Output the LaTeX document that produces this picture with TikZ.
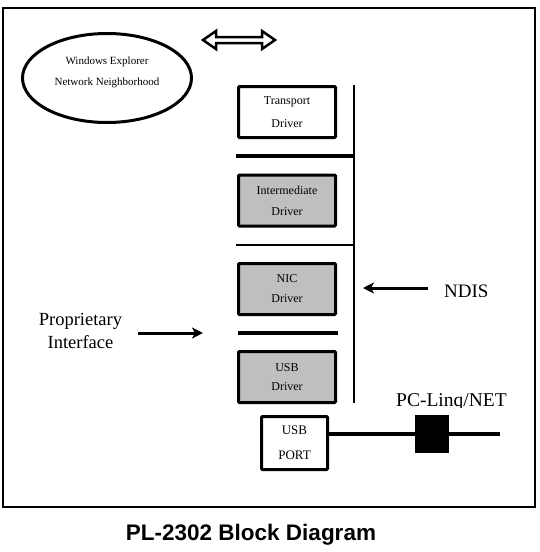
\documentclass[tikz,border=0pt]{standalone}
\usepackage{fontspec}
\setmainfont{Liberation Serif}
\newfontfamily\titlefont{Liberation Sans}
\usetikzlibrary{shapes.geometric,arrows.meta}
\begin{document}
\begin{tikzpicture}[x=1pt,y=-1pt,
  drvbox/.style={draw,line width=3pt,rounded corners=1pt,minimum width=97pt,minimum height=51pt,inner sep=0pt,align=center,font=\fontsize{12}{21}\selectfont},
  graybox/.style={drvbox,fill=gray!50},
  septhick/.style={line width=4pt},
  septhin/.style={line width=2pt},
  bigtext/.style={font=\fontsize{19}{23}\selectfont,inner sep=0pt,align=center},
  annarrow/.style={line width=3pt,-{Stealth[length=11pt,width=11pt,inset=3pt]}}
]
\useasboundingbox (0,0) rectangle (540,552);
% outer frame
\draw[line width=1.5pt] (3,8) rectangle (535,507);

% ellipse
\node[ellipse,draw,line width=3pt,minimum width=169pt,minimum height=89pt,inner sep=0pt] (el) at (107,78) {};
\node[font=\fontsize{11}{21}\selectfont,align=center,inner sep=0pt] (eltext) at (107,72.5) {Windows Explorer\\Network Neighborhood};

% double arrow
\draw[line width=2.5pt,line join=miter] (203,40) -- (216,31) -- (216,37) -- (262,37) -- (262,31) -- (275,40) -- (262,49) -- (262,43) -- (216,43) -- (216,49) -- cycle;

% driver stack
\node[drvbox,fill=white] (tr) at (287,112) {Transport\\[2pt]Driver};
\node[graybox] (im) at (287,200.5) {Intermediate\\Driver};
\node[graybox] (nic) at (287,289) {NIC\\[-1pt]Driver};
\node[graybox] (usbd) at (287,377) {USB\\[-2pt]Driver};

\coordinate (vtop) at (353.5,85);
\coordinate (vbot) at (353.5,403);
\draw[line width=2pt] (vtop) -- (vbot);
\draw[septhick] (236,156) -- (353,156);
\draw[septhin] (236,245) -- (353,245);
\draw[septhick] (238,333) -- (338,333);

% NDIS
\begin{scope}
\clip (435,270) rectangle (505,296.5);
\node[bigtext,anchor=base west] (ndis) at (444,297.5) {NDIS};
\end{scope}
\coordinate (ndisend) at (363,288);
\draw[annarrow] (ndis.west |- ndisend) ++(-16,0) -- (ndisend);

% Proprietary Interface
\node[bigtext,font=\fontsize{18.5}{23}\selectfont] (prop) at (80.5,330.5) {Proprietary\\Interface};
\coordinate (propend) at (203,333);
\draw[annarrow] (138,333) -- (propend);

% USB port
\node[drvbox,fill=white,minimum width=66pt,minimum height=53pt,font=\fontsize{13}{25}\selectfont] (port) at (294.5,443) {USB\\PORT};
\coordinate (lineend) at (500,434);
\draw[line width=4pt] (port.east |- lineend) -- (lineend);
\node[fill=black,minimum width=34pt,minimum height=38pt,inner sep=0pt] (plug) at (432,434) {};

% PC-Linq/NET
\begin{scope}
\clip (390,380) rectangle (510,407);
\node[bigtext,font=\fontsize{19.5}{23}\selectfont,anchor=base west] (pcl) at (396,406) {PC-Linq/NET};
\end{scope}

% title
\node[font=\titlefont\bfseries\fontsize{22.5}{27}\selectfont,inner sep=0pt] (title) at (251,535) {PL-2302 Block Diagram};
\end{tikzpicture}
\end{document}
